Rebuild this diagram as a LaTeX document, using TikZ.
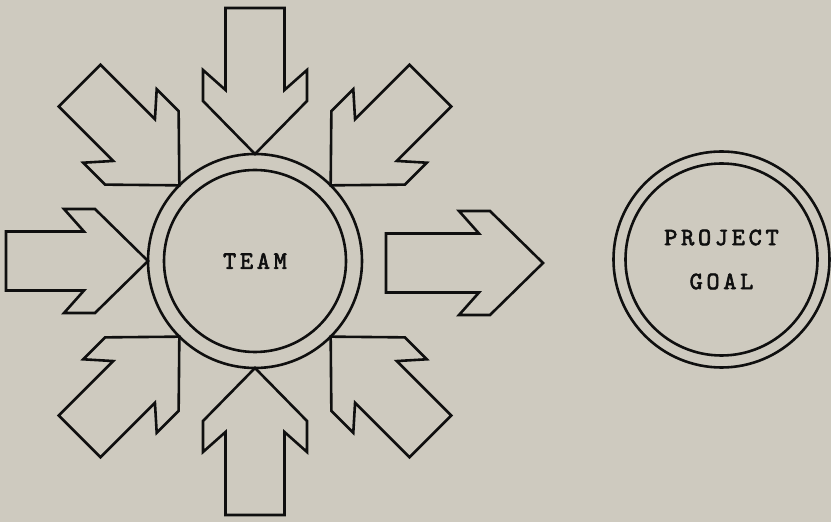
\documentclass[tikz,border=0pt]{standalone}
\usepackage{fontspec}
\usepackage{tikz}
\usetikzlibrary{positioning}
\newfontfamily\typefont{lmmono10-regular.otf}[LetterSpace=15, FakeBold=2.5]
\definecolor{paper}{RGB}{206,202,191}
\definecolor{ink}{RGB}{15,15,15}

\begin{document}
\begin{tikzpicture}[
  x=1pt, y=1pt,
  ring/.style={draw=ink, line width=2.6pt, circle, inner sep=0pt,
    font=\typefont\fontsize{25}{44}\selectfont, align=center, text=ink},
  blockarrow/.style={draw=ink, line width=2.6pt, line join=miter}
]

% paper
\fill[paper] (0,0) rectangle (831,522);
\useasboundingbox (0,0) rectangle (831,522);

% Team
\node[ring, minimum size=214pt] (team) at (255,261) {TEAM};
\draw[ink, line width=2.6pt] (team.center) circle (91);

% Project goal
\node[ring, minimum size=216pt] (goal) at (721.5,262.5) {PROJECT\\GOAL};
\draw[ink, line width=2.6pt] (goal.center) circle (96);

% Arrows pointing in to the team
\foreach \ang/\len in {45/141, 90/146, 135/141, 180/142, 225/141, 270/147, 315/141} {
  \draw[blockarrow, shift={(team.center)}, rotate=\ang]
    (107,0) -- (160,52) -- (191,52) -- (171,29.5) -- ({107+\len},29.5)
    -- ({107+\len},-29.5) -- (171,-29.5) -- (191,-52) -- (160,-52) -- cycle;
}

% Arrow from the team to the goal
\coordinate (tip) at (543,259);
\draw[blockarrow, shift={(tip)}]
  (0,0) -- (-53,52) -- (-84,52) -- (-64,29.5) -- (-157,29.5)
  -- (-157,-29.5) -- (-64,-29.5) -- (-84,-52) -- (-53,-52) -- cycle;

\end{tikzpicture}
\end{document}
